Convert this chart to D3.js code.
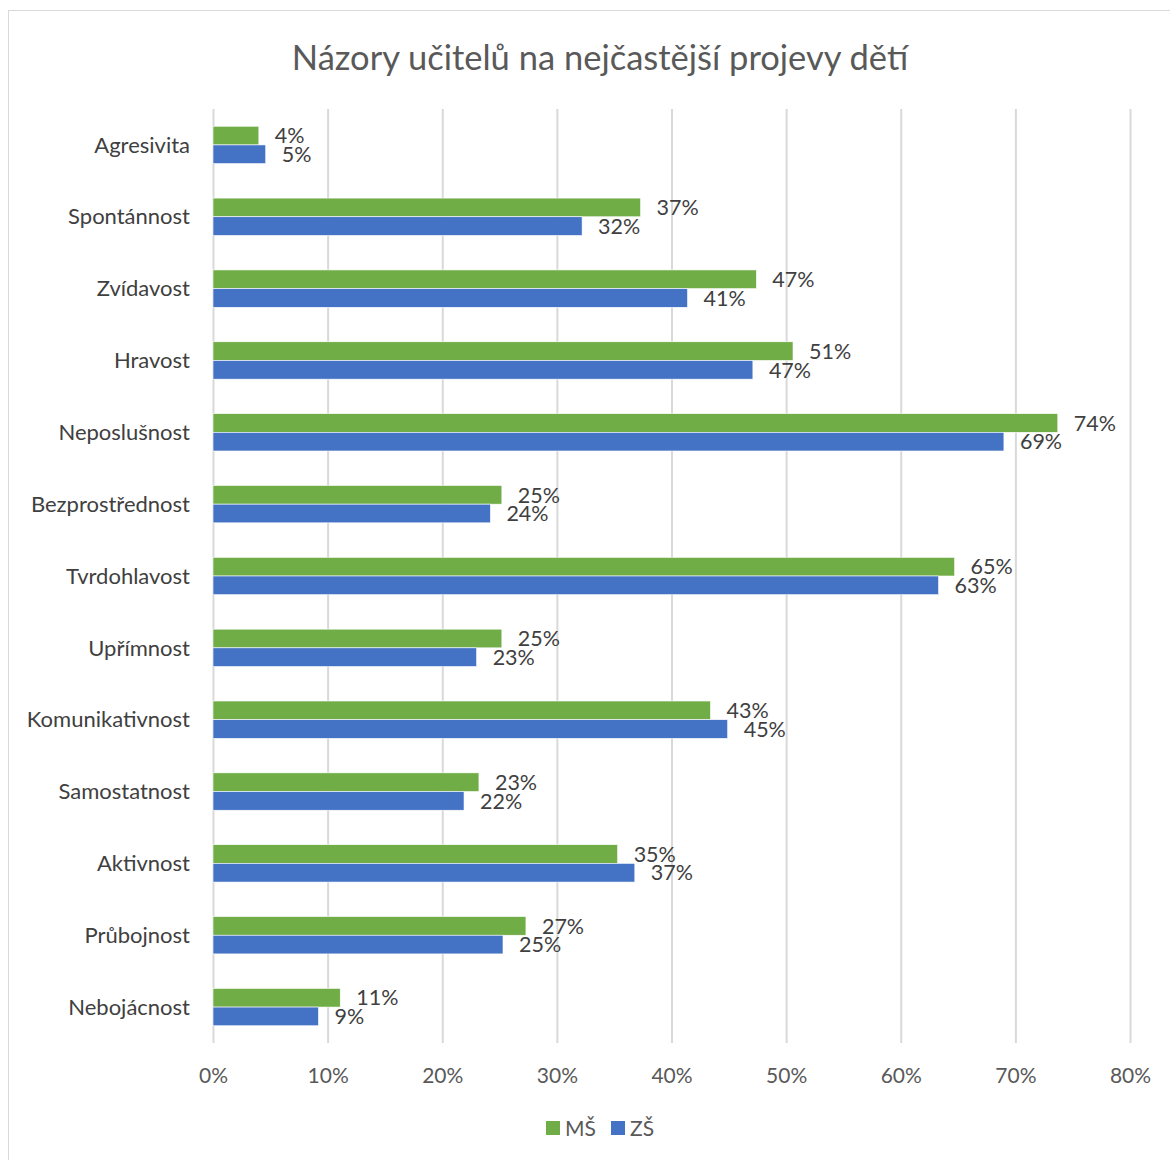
<!DOCTYPE html>
<html>
<head>
<meta charset="utf-8">
<script src="https://cdn.jsdelivr.net/npm/d3@7"></script>
<style>
  html, body { margin: 0; padding: 0; background: #fff; }
  svg { display: block; font-family: Lato, "Open Sans", sans-serif; }
</style>
</head>
<body>
<svg id="chart" width="1170" height="1160"></svg>
<script>
// Categories, top to bottom
const categories = ["Agresivita", "Spontánnost", "Zvídavost", "Hravost", "Neposlušnost",
  "Bezprostřednost", "Tvrdohlavost", "Upřímnost", "Komunikativnost", "Samostatnost",
  "Aktivnost", "Průbojnost", "Nebojácnost"];

// Share of teachers (%) per group
const msValues = [4.0, 37.3, 47.4, 50.6, 73.7, 25.2, 64.7, 25.2, 43.4, 23.2, 35.3, 27.3, 11.1];
const zsValues = [4.6, 32.2, 41.4, 47.1, 69.0, 24.2, 63.3, 23.0, 44.9, 21.9, 36.8, 25.3, 9.2];

const seriesNames = ["MŠ", "ZŠ"];
const seriesColors = ["#70AD47", "#4472C4"];
const xTicks = [0, 10, 20, 30, 40, 50, 60, 70, 80];

const title = "Názory učitelů na nejčastější projevy dětí";

const svg = d3.select("#chart");

// chart frame
svg.append("rect")
  .attr("x", 8.5).attr("y", 10.5)
  .attr("width", 1200).attr("height", 1200)
  .attr("fill", "#fff").attr("stroke", "#d9d9d9").attr("stroke-width", 1);

svg.append("text")
  .attr("x", 600).attr("y", 70)
  .attr("text-anchor", "middle")
  .attr("font-size", 34.5)
  .attr("fill", "#595959")
  .text(title);

const plot = { left: 213, right: 1130, top: 109, bottom: 1043 };

const x = d3.scaleLinear().domain([0, 80]).range([plot.left, plot.right]);
const y = d3.scaleBand().domain(categories).range([plot.top, plot.bottom])
  .paddingInner(0.48).paddingOuter(0.24);
const ySub = d3.scaleBand().domain(seriesNames).range([0, y.bandwidth()]);

// vertical gridlines
svg.append("g")
  .selectAll("line")
  .data(xTicks)
  .join("line")
  .attr("x1", d => x(d) + 0.5).attr("x2", d => x(d) + 0.5)
  .attr("y1", plot.top).attr("y2", plot.bottom)
  .attr("stroke", "#d9d9d9").attr("stroke-width", 2);

// x axis labels
const xAxis = d3.axisBottom(x).tickValues(xTicks).tickFormat(d => d + "%").tickSize(0).tickPadding(0);
const gx = svg.append("g").attr("transform", `translate(0,${plot.bottom + 40})`).call(xAxis);
gx.select(".domain").remove();
gx.selectAll("text")
  .attr("font-family", "Lato, 'Open Sans', sans-serif")
  .attr("font-size", 21).attr("fill", "#595959").attr("dy", 0);

// category labels
const yAxis = d3.axisLeft(y).tickSize(0).tickPadding(0);
const gy = svg.append("g").attr("transform", `translate(${plot.left - 23},0)`).call(yAxis);
gy.select(".domain").remove();
gy.selectAll("text")
  .attr("font-family", "Lato, 'Open Sans', sans-serif")
  .attr("font-size", 22).attr("fill", "#404040")
  .attr("dy", "0.35em");

// bars
const rows = categories.map((c, i) => ({ cat: c, values: [msValues[i], zsValues[i]] }));
const groups = svg.append("g")
  .selectAll("g")
  .data(rows)
  .join("g")
  .attr("transform", d => `translate(0,${y(d.cat)})`);

groups.selectAll("rect")
  .data(d => d.values.map((v, k) => ({ v, k })))
  .join("rect")
  .attr("x", x(0))
  .attr("y", d => ySub(seriesNames[d.k]))
  .attr("width", d => x(d.v) - x(0))
  .attr("height", ySub.bandwidth())
  .attr("fill", d => seriesColors[d.k])
  .attr("stroke", "#fff").attr("stroke-width", 0.6);

groups.selectAll("text")
  .data(d => d.values.map((v, k) => ({ v, k })))
  .join("text")
  .attr("x", d => x(d.v) + 16)
  .attr("y", d => ySub(seriesNames[d.k]) + ySub.bandwidth() / 2)
  .attr("dy", "0.36em")
  .attr("font-size", 21.5)
  .attr("fill", "#404040")
  .text(d => Math.round(d.v) + "%");

// legend
const legend = svg.append("g").attr("transform", "translate(546,1128)");
const legendX = [0, 65];
seriesNames.forEach((name, i) => {
  const g = legend.append("g").attr("transform", `translate(${legendX[i]},0)`);
  g.append("rect").attr("x", 0).attr("y", -7).attr("width", 14).attr("height", 14).attr("fill", seriesColors[i]);
  g.append("text").attr("x", 19).attr("y", 0).attr("dy", "0.36em")
    .attr("font-size", 21).attr("fill", "#595959").text(name);
});
</script>
</body>
</html>
